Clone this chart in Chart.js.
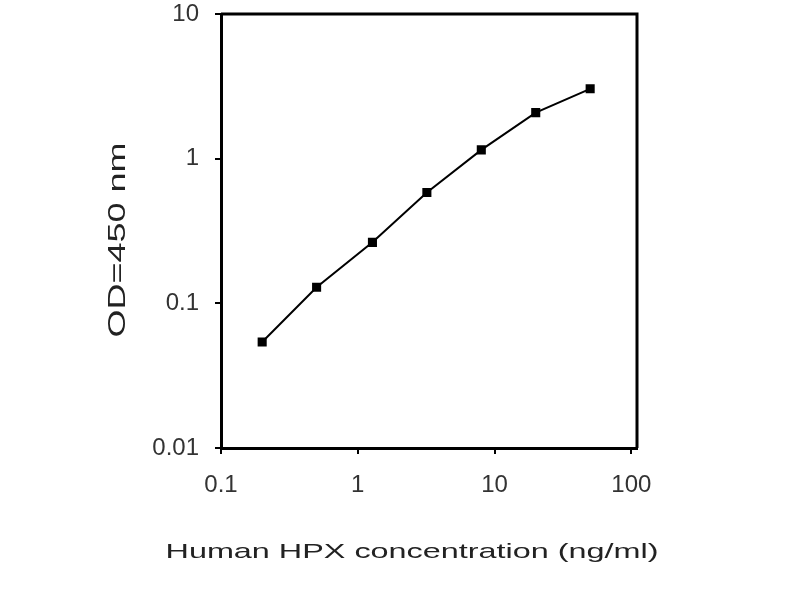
<!DOCTYPE html>
<html>
<head>
<meta charset="utf-8">
<script src="https://cdn.jsdelivr.net/npm/chart.js@4/dist/chart.umd.min.js"></script>
<style>
    html, body { margin: 0; padding: 0; background: #fff; }
    #wrap { width: 800px; height: 600px; }
</style>
</head>
<body>
<div id="wrap"><canvas id="myChart" width="800" height="600"></canvas></div>
<script>
// standard curve values
const concentrations = [0.2, 0.5, 1.28, 3.2, 8, 20, 50];
const odValues = [0.054, 0.129, 0.264, 0.583, 1.15, 2.08, 3.04];
const xTickValues = [0.1, 1, 10, 100];
const yTickValues = [0.01, 0.1, 1, 10];
const xTitle = 'Human HPX concentration (ng/ml)';
const yTitle = 'OD=450 nm';

const family = 'Arial, "Liberation Sans", sans-serif';

// the old picture has wide, stretched lettering - stretch the text to fit
function stretchedText(ctx, text, x, y, width, size, rotate) {
    ctx.save();
    ctx.font = size + 'px ' + family;
    ctx.fillStyle = '#222';
    ctx.translate(x, y);
    if (rotate) ctx.rotate(-Math.PI / 2);
    let w = ctx.measureText(text).width;
    ctx.scale(width / w, 1);
    ctx.textAlign = 'center';
    ctx.textBaseline = 'middle';
    ctx.fillText(text, 0, 0);
    ctx.restore();
}

const framePlugin = {
    id: 'frame',
    afterDraw(chart) {
        const ctx = chart.ctx;
        const a = chart.chartArea;
        ctx.save();
        ctx.strokeStyle = '#000';
        ctx.lineWidth = 3;
        ctx.beginPath();
        ctx.moveTo(a.left, a.top);
        ctx.lineTo(a.right, a.top);
        ctx.lineTo(a.right, a.bottom);
        ctx.stroke();
        ctx.restore();

        stretchedText(ctx, xTitle, (a.left + a.right) / 2 - 17, 552, 493, 21, false);
        stretchedText(ctx, yTitle, 118, (a.top + a.bottom) / 2 + 9, 195, 24, true);
    }
};

const ctx = document.getElementById('myChart').getContext('2d');
const myChart = new Chart(ctx, {
    type: 'scatter',
    data: {
        datasets: [{
            data: concentrations.map((c, i) => ({x: c, y: odValues[i]})),
            showLine: true,
            borderColor: '#000',
            backgroundColor: '#000',
            borderWidth: 2,
            pointStyle: 'rect',
            pointRadius: 5,
            pointHoverRadius: 5,
            clip: false
        }]
    },
    options: {
        responsive: false,
        animation: false,
        devicePixelRatio: 1,
        layout: {padding: {top: 14, right: 163, left: 0, bottom: 0}},
        plugins: {legend: {display: false}, tooltip: {enabled: false}},
        scales: {
            x: {
                type: 'logarithmic',
                min: 0.1,
                max: 110,
                afterBuildTicks: s => { s.ticks = xTickValues.map(v => ({value: v})); },
                afterFit: s => {
                    s.height = 152;
                    s.paddingLeft = 0;
                    s.paddingRight = 0;
                },
                ticks: {
                    callback: v => String(v),
                    font: {size: 24, family: family},
                    color: '#333',
                    padding: 17,
                    maxRotation: 0,
                    autoSkip: false
                },
                grid: {drawOnChartArea: false, tickLength: 6, color: '#000', lineWidth: 2},
                border: {color: '#000', width: 3}
            },
            y: {
                type: 'logarithmic',
                min: 0.01,
                max: 10,
                afterBuildTicks: s => { s.ticks = yTickValues.map(v => ({value: v})); },
                afterFit: s => {
                    s.width = 221;
                    s.paddingTop = 0;
                    s.paddingBottom = 0;
                },
                ticks: {
                    callback: v => String(v),
                    font: {size: 24, family: family},
                    color: '#333',
                    padding: 16,
                    autoSkip: false
                },
                grid: {drawOnChartArea: false, tickLength: 6, color: '#000', lineWidth: 2},
                border: {color: '#000', width: 3}
            }
        }
    },
    plugins: [framePlugin]
});
</script>
</body>
</html>
